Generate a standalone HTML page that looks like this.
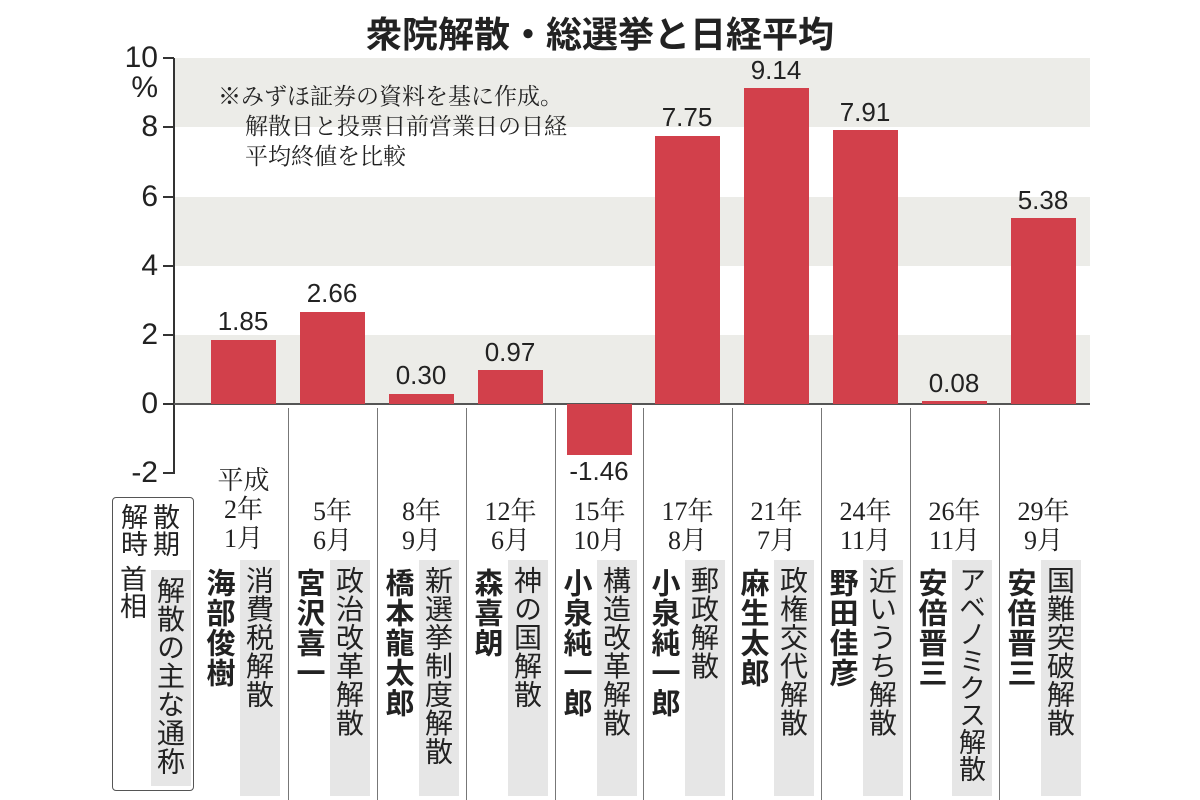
<!DOCTYPE html>
<html><head><meta charset="utf-8"><style>
body{margin:0;width:1200px;height:800px;background:#fff;overflow:hidden;position:relative;font-family:"Liberation Sans","Noto Sans CJK JP",sans-serif;color:#222}
.a{position:absolute}
.band{position:absolute;left:174px;width:916px;height:69px;background:#ecece8}
.tk{position:absolute;left:163px;width:11px;height:2px;background:#333}
.yl{position:absolute;width:70px;left:88px;text-align:right;font-size:30px;line-height:30px}
.bar{position:absolute;width:65px;background:#d2404b}
.val{position:absolute;width:100px;text-align:center;font-size:26px;line-height:26px}
.sep{position:absolute;top:408px;height:392px;width:1px;background:#777}
.yr{position:absolute;width:89px;text-align:center;font-family:"Liberation Serif","Noto Serif CJK SC",serif;font-size:26px;line-height:29px}
.nm{position:absolute;top:568px;writing-mode:vertical-rl;font-weight:bold;font-size:29px;line-height:32px;letter-spacing:1px;font-family:"Noto Sans CJK JP",sans-serif;white-space:nowrap}
.nk{position:absolute;top:560px;width:40px;height:236px;background:#e6e6e6}
.nk span{position:absolute;left:5px;top:6px;writing-mode:vertical-rl;font-size:28px;line-height:30px;letter-spacing:0.5px;font-family:"Noto Sans CJK JP",sans-serif;white-space:nowrap}
.note{position:absolute;font-family:"Noto Serif CJK SC",serif;font-size:23px;line-height:30px}
</style></head><body>
<div class="a" style="left:0;width:1200px;top:6px;text-align:center;font-weight:bold;font-size:36px;font-family:'Noto Sans CJK JP',sans-serif">衆院解散・総選挙と日経平均</div>
<div class="band" style="top:58px"></div>
<div class="band" style="top:197px"></div>
<div class="band" style="top:335px"></div>
<div class="a" style="left:173px;top:58px;width:2px;height:416px;background:#333"></div>
<div class="tk" style="top:57px"></div><div class="tk" style="top:126px"></div><div class="tk" style="top:196px"></div><div class="tk" style="top:265px"></div><div class="tk" style="top:334px"></div><div class="tk" style="top:403px"></div><div class="tk" style="top:472px"></div>
<div class="yl" style="top:43px">10</div>
<div class="yl" style="top:73px">%</div>
<div class="yl" style="top:112px">8</div>
<div class="yl" style="top:182px">6</div>
<div class="yl" style="top:251px">4</div>
<div class="yl" style="top:320px">2</div>
<div class="yl" style="top:389px">0</div>
<div class="yl" style="top:458px">-2</div>
<div class="a" style="left:174px;top:403px;width:916px;height:2px;background:#555"></div>
<div class="note" style="left:218px;top:80px">※みずほ証券の資料を基に作成。</div>
<div class="note" style="left:245px;top:110px">解散日と投票日前営業日の日経</div>
<div class="note" style="left:245px;top:140px">平均終値を比較</div>

<div class="bar" style="left:211px;top:340px;height:64px"></div><div class="val" style="left:193px;top:308px">1.85</div>
<div class="bar" style="left:300px;top:312px;height:92px"></div><div class="val" style="left:282px;top:280px">2.66</div>
<div class="bar" style="left:389px;top:394px;height:10px"></div><div class="val" style="left:371px;top:362px">0.30</div>
<div class="bar" style="left:478px;top:370px;height:34px"></div><div class="val" style="left:460px;top:339px">0.97</div>
<div class="bar" style="left:567px;top:404px;height:51px"></div><div class="val" style="left:549px;top:458px">-1.46</div>
<div class="bar" style="left:655px;top:136px;height:268px"></div><div class="val" style="left:637px;top:104px">7.75</div>
<div class="bar" style="left:744px;top:88px;height:316px"></div><div class="val" style="left:726px;top:57px">9.14</div>
<div class="bar" style="left:833px;top:130px;height:274px"></div><div class="val" style="left:815px;top:99px">7.91</div>
<div class="bar" style="left:922px;top:401px;height:3px"></div><div class="val" style="left:904px;top:370px">0.08</div>
<div class="bar" style="left:1011px;top:218px;height:186px"></div><div class="val" style="left:993px;top:187px">5.38</div>

<div class="sep" style="left:288px"></div><div class="sep" style="left:377px"></div><div class="sep" style="left:466px"></div><div class="sep" style="left:555px"></div><div class="sep" style="left:643px"></div><div class="sep" style="left:732px"></div><div class="sep" style="left:821px"></div><div class="sep" style="left:910px"></div><div class="sep" style="left:999px"></div>

<div class="a" style="left:112px;top:497px;width:80px;height:292px;border:1.5px solid #555;border-radius:4px"></div>
<div class="a" style="left:118px;top:503px;writing-mode:vertical-rl;font-family:'Noto Sans CJK JP',sans-serif;font-size:27px;line-height:32px">散期<br>解時</div>
<div class="a" style="left:118px;top:565px;font-size:27px;line-height:30px;writing-mode:vertical-rl;font-family:'Noto Sans CJK JP',sans-serif">首相</div>
<div class="nk" style="left:151px;top:570px;height:216px"><span>解散の主な通称</span></div>

<div class="yr" style="left:199px;top:466px">平成<br>2年<br>1月</div>
<div class="yr" style="left:288px;top:497px">5年<br>6月</div>
<div class="yr" style="left:377px;top:497px">8年<br>9月</div>
<div class="yr" style="left:466px;top:497px">12年<br>6月</div>
<div class="yr" style="left:555px;top:497px">15年<br>10月</div>
<div class="yr" style="left:643px;top:497px">17年<br>8月</div>
<div class="yr" style="left:732px;top:497px">21年<br>7月</div>
<div class="yr" style="left:821px;top:497px">24年<br>11月</div>
<div class="yr" style="left:910px;top:497px">26年<br>11月</div>
<div class="yr" style="left:999px;top:497px">29年<br>9月</div>

<div class="nm" style="left:205px">海部俊樹</div><div class="nk" style="left:240px"><span>消費税解散</span></div>
<div class="nm" style="left:295px">宮沢喜一</div><div class="nk" style="left:330px"><span>政治改革解散</span></div>
<div class="nm" style="left:384px">橋本龍太郎</div><div class="nk" style="left:419px"><span>新選挙制度解散</span></div>
<div class="nm" style="left:473px">森喜朗</div><div class="nk" style="left:508px"><span>神の国解散</span></div>
<div class="nm" style="left:562px">小泉純一郎</div><div class="nk" style="left:597px"><span>構造改革解散</span></div>
<div class="nm" style="left:650px">小泉純一郎</div><div class="nk" style="left:685px"><span>郵政解散</span></div>
<div class="nm" style="left:739px">麻生太郎</div><div class="nk" style="left:774px"><span>政権交代解散</span></div>
<div class="nm" style="left:828px">野田佳彦</div><div class="nk" style="left:863px"><span>近いうち解散</span></div>
<div class="nm" style="left:917px">安倍晋三</div><div class="nk" style="left:952px"><span style="font-size:27px;letter-spacing:0">アベノミクス解散</span></div>
<div class="nm" style="left:1006px">安倍晋三</div><div class="nk" style="left:1041px"><span>国難突破解散</span></div>
</body></html>
